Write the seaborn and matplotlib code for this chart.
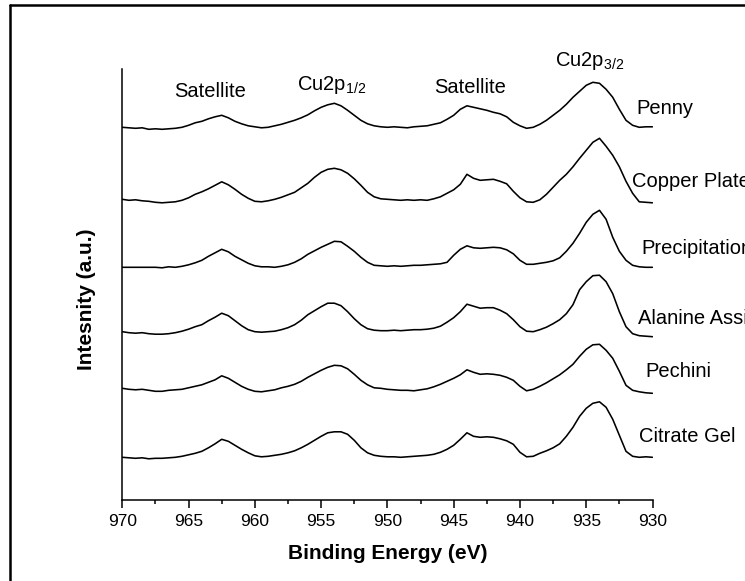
import numpy as np
import pandas as pd
import matplotlib
matplotlib.use("Agg")
import matplotlib.pyplot as plt
from matplotlib.lines import Line2D
from matplotlib.ticker import MultipleLocator
import seaborn as sns

# Binding-energy sampling grid (eV), 0.5 eV step from 970 down to 930
energy = np.arange(970.0, 929.75, -0.5)

samples = ["Penny", "Copper Plate", "Precipitation",
           "Alanine Assisted", "Pechini", "Citrate Gel"]

# Background-flattened Cu 2p intensities (a.u.), one value per grid point
penny = [0, -0.5, -1, -0.5, -2, -1.5, -2, -1.5, -1, 0, 2, 4.5, 6, 8.5, 10.5, 12,
         9.5, 6, 3.5, 1.5, 0.5, -0.5, 0, 1.5, 3, 5, 7, 9.5, 12.5, 16.5, 20, 22.5,
         24, 21.5, 17, 12, 7, 3.5, 1.5, 0.5, 0, 0.5, 0, -0.5, 0.5, 1, 1.5, 3,
         4.5, 8, 12, 18, 21.5, 20, 18.5, 17, 15, 13.5, 10.5, 5, 1.5, -1, 0, 3,
         7, 12, 17, 23, 30, 36, 42, 45, 44, 38, 30, 18, 7, 2, 0, 0.5, 0.5]
copper_plate = [0, -1, -0.5, -1.5, -2, -3, -3.5, -3, -2.5, -1, 1.5, 5, 7.5, 10.5,
                14, 17.5, 14.5, 10, 5, 1, -2, -2.5, -1.5, 0, 2, 4.5, 7, 11.5, 16,
                22, 27, 30, 31, 29.5, 26, 20.5, 14, 7, 2.5, 0.5, 0, -0.5, -1, -0.5,
                -1, -0.5, -1, 0.5, 2.5, 6, 9.5, 15, 25, 21, 19, 19.5, 20, 18, 15.5,
                8, 1.5, -2.5, -3, -0.5, 5, 12, 19, 25, 32.5, 41, 49, 57, 61, 53, 44,
                32.5, 18, 6, -2.5, -3, -3.5]
precipitation = [0, 0, 0, 0, 0, 0, -0.5, 0.5, 0, 1, 2.5, 4.5, 7, 11, 14.5, 18,
                 15.5, 11, 7.5, 4, 1.5, 0.5, 0.5, 0, 1, 2.5, 5, 8.5, 13, 16.5, 20,
                 23, 26, 25.5, 21, 16, 10, 5, 2, 1.5, 1, 1.5, 1, 1.5, 2, 2, 2.5, 3,
                 3.5, 5, 12, 18, 21.5, 19.5, 19, 19.5, 20, 19.5, 17.5, 13.5, 7, 3,
                 3, 4, 5, 6.5, 9.5, 16, 24, 34, 45, 53, 57, 48, 30, 16, 7, 2, 0.5,
                 0, 0]
alanine = [0, -1, -1.5, -1, -2, -2.5, -2.5, -2, -1, 0.5, 2.5, 5, 7, 11, 14.5, 18.5,
           16, 11, 6, 2, 0, -0.5, 0, 0.5, 2, 4, 7, 11.5, 17, 21, 25, 28.5, 28.5,
           26, 20, 13, 7, 3, 1.5, 1, 1, 1.5, 1, 1.5, 2, 2, 2.5, 3.5, 5.5, 9.5, 14,
           20, 27.5, 25.5, 23.5, 24, 24, 21.5, 18, 12, 5, 0.5, 0, 2, 4.5, 8, 12,
           18, 27, 42, 50, 56, 56.5, 50, 38, 20, 5, -2, -4, -4.5, -5]
pechini = [0, -1, -1.5, -1, -2, -3, -3, -2, -1.5, -1, 0.5, 2, 3.5, 6, 8.5, 12.5,
           10, 6, 2, -1, -3, -3.5, -2.5, -1.5, 0.5, 2, 4, 7, 11, 14.5, 18, 21, 23,
           22.5, 19.5, 14, 8, 3.5, 0.5, 0, -1, -1.5, -2, -2, -2.5, -1.5, -0.5, 1.5,
           4, 7, 10, 13.5, 18.5, 16, 14, 14.5, 14, 13, 11, 8, 2, -2.5, -1, 2, 5.5,
           9.5, 13.5, 18.5, 24, 32, 39, 43.5, 44, 38, 30, 17, 3, -2, -3.5, -4.5, -5]
citrate_gel = [0, -0.5, -1, -0.5, -1.5, -1, -1, -0.5, 0, 1, 2.5, 4, 6, 9.5, 13.5,
               18, 16, 12, 8, 4.5, 1.5, 0.5, 1, 2, 3, 4.5, 6.5, 9.5, 13, 17, 21,
               24.5, 25.5, 25.5, 23, 17, 9.5, 4.5, 2, 1, 0.5, 0.5, 0, 0.5, 1, 1.5,
               2, 3, 5, 8, 12, 18, 24.5, 21, 20, 20.5, 20, 18.5, 16.5, 13, 5, 0.5,
               1, 4, 6.5, 9.5, 13.5, 21, 30, 41, 49, 54, 55.5, 50, 38, 22, 6, 1, 0,
               0.5, 0]

spectra = [penny, copper_plate, precipitation, alanine, pechini, citrate_gel]

# Peak assignments
peak_labels = ["Satellite", r"Cu2p$_{1/2}$", "Satellite", r"Cu2p$_{3/2}$"]

# Vertical stacking of the spectra and placement of the text (layout only)
stack_offset = [372.7, 300.7, 232.7, 168.3, 111.7, 42.7]
name_pos = [(931.24, 392), (931.57, 318.3), (930.81, 251.7),
            (931.07, 181.7), (930.57, 128.3), (931.0, 63.3)]
peak_pos = [(963.37, 402.7, "center"), (956.82, 410.0, "left"),
            (943.77, 406.7, "center"), (937.37, 434.0, "left")]

frames = []
for name, vals, off in zip(samples, spectra, stack_offset):
    frames.append(pd.DataFrame({"energy": energy,
                                "intensity": np.asarray(vals, float) + off,
                                "sample": name}))
df = pd.concat(frames, ignore_index=True)

sns.set_theme(style="white")
plt.rcParams["font.family"] = ["Liberation Sans", "DejaVu Sans"]
plt.rcParams["mathtext.fontset"] = "custom"
plt.rcParams["mathtext.rm"] = "Liberation Sans"
plt.rcParams["mathtext.default"] = "regular"

fig = plt.figure(figsize=(7.45, 5.81), dpi=100)
ax = fig.add_axes([122.3 / 745, 1 - 500 / 581, 530.2 / 745, 431 / 581])

sns.lineplot(data=df, x="energy", y="intensity", hue="sample",
             palette={s: "black" for s in samples}, estimator=None,
             sort=False, legend=False, linewidth=1.15, ax=ax)

ax.set_xlim(970, 930)
ax.set_ylim(0, 431)
ax.xaxis.set_major_locator(MultipleLocator(5))
ax.xaxis.set_minor_locator(MultipleLocator(2.5))
ax.tick_params(axis="x", which="major", direction="out", length=6, width=1.1,
               color="black", bottom=True, labelsize=12.5, pad=4,
               labelcolor="black")
ax.tick_params(axis="x", which="minor", direction="out", length=3, width=1.1,
               color="black", bottom=True)
ax.set_yticks([])
for side in ("top", "right"):
    ax.spines[side].set_visible(False)
for side in ("left", "bottom"):
    ax.spines[side].set_color("black")
    ax.spines[side].set_linewidth(1.1)

ax.set_xlabel("Binding Energy (eV)", fontsize=15, fontweight="bold",
              color="black", labelpad=11)
ax.set_ylabel("Intesnity (a.u.)", fontsize=15, fontweight="bold",
              color="black")
ax.yaxis.set_label_coords(-0.05, 0.466)

for (x, y), name in zip(name_pos, samples):
    ax.text(x, y, name, fontsize=14.5, ha="left", va="center", color="black")
for (x, y, ha), lab in zip(peak_pos, peak_labels):
    ax.text(x, y, lab, fontsize=14.5, ha=ha, va="baseline", color="black")

# Outer frame of the figure panel
fig.add_artist(Line2D([9.5 / 745, 1.0], [1 - 5 / 581, 1 - 5 / 581],
                      transform=fig.transFigure, color="black", lw=1.8))
fig.add_artist(Line2D([9.5 / 745, 9.5 / 745], [0.0, 1 - 5 / 581],
                      transform=fig.transFigure, color="black", lw=1.8))

fig.savefig("out.png", dpi=100)
